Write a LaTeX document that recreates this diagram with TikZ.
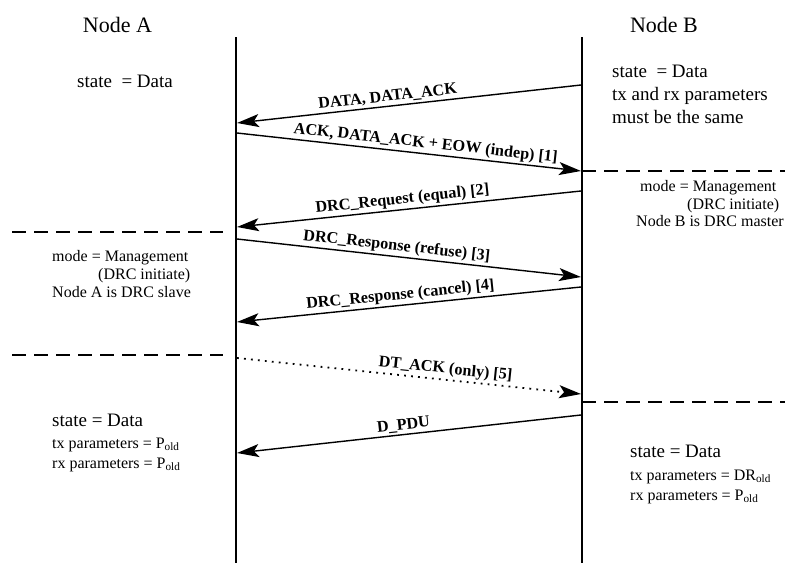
\documentclass[tikz,border=0pt]{standalone}
\usepackage{fontspec}
\setmainfont{Liberation Serif}
\usetikzlibrary{arrows.meta}
\begin{document}
\begin{tikzpicture}[x=1pt,y=-1pt,
  lifeline/.style={line width=1.8pt},
  msg/.style={line width=1.4pt,-{Stealth[length=22pt,width=13pt,inset=5pt]}},
  dotmsg/.style={msg, dash pattern=on 1.8pt off 5.2pt, line width=1.8pt},
  sepline/.style={line width=2pt, dash pattern=on 14pt off 8pt},
  lbl/.style={font=\bfseries\fontsize{16.2}{19}\selectfont, sloped, above=1pt, inner sep=1pt},
  title/.style={font=\fontsize{22}{24}\selectfont, inner sep=0pt, anchor=base},
  big/.style={font=\fontsize{19}{22}\selectfont, anchor=base west, inner sep=0pt},
  mid/.style={font=\fontsize{16}{19}\selectfont, anchor=base west, inner sep=0pt}]
\useasboundingbox (0,0) rectangle (785,563);
\clip (0,0) rectangle (785,563);

% titles
\node[title] (nA) at (117.5,32) {Node A};
\node[title] (nB) at (664,32) {Node B};

% lifelines
\coordinate (At) at (236,37); \coordinate (Ab) at (236,563);
\coordinate (Bt) at (582,37); \coordinate (Bb) at (582,563);
\draw[lifeline] (At) -- (Ab);
\draw[lifeline] (Bt) -- (Bb);

% message end points
\coordinate (B1) at (581,85);  \coordinate (A1) at (237,123);
\coordinate (A2) at (237,133); \coordinate (B2) at (581,171);
\coordinate (B3) at (581,191); \coordinate (A3) at (237,227);
\coordinate (A4) at (237,239); \coordinate (B4) at (581,277);
\coordinate (B5) at (581,287); \coordinate (A5) at (237,322);
\coordinate (A6) at (237,358); \coordinate (B6) at (581,394);
\coordinate (B7) at (581,415); \coordinate (A7) at (237,453);

\draw[msg] (B1) -- node[lbl,pos=0.559] (l1) {DATA, DATA\_ACK} (A1);
\draw[msg] (A2) -- node[lbl,pos=0.545] (l2) {ACK, DATA\_ACK + EOW (indep) [1]} (B2);
\draw[msg] (B3) -- node[lbl,pos=0.516] (l3) {DRC\_Request (equal) [2]} (A3);
\draw[msg] (A4) -- node[lbl,pos=0.461] (l4) {DRC\_Response (refuse) [3]} (B4);
\draw[msg] (B5) -- node[lbl,pos=0.522] (l5) {DRC\_Response (cancel) [4]} (A5);
\draw[dotmsg] (A6) -- node[lbl,pos=0.603] (l6) {DT\_ACK (only) [5]} (B6);
\draw[msg] (B7) -- node[lbl,pos=0.513] (l7) {D\_PDU} (A7);

% phase separators
\coordinate (s1a) at (582,171); \coordinate (s1b) at (785,171);
\coordinate (s2a) at (12,232);  \coordinate (s2b) at (223,232);
\coordinate (s3a) at (12,355);  \coordinate (s3b) at (223,355);
\coordinate (s4a) at (582,402); \coordinate (s4b) at (785,402);
\draw[sepline] (s1a) -- (s1b);
\draw[sepline] (s2a) -- (s2b);
\draw[sepline] (s3a) -- (s3b);
\draw[sepline] (s4a) -- (s4b);

% state texts
\node[big] (stA) at (77,87) {state\ \ = Data};
\node[big] (stB1) at (612,77) {state\ \ = Data};
\node[big] (stB2) at (612,100) {tx and rx parameters};
\node[big] (stB3) at (612,123) {must be the same};

\node[mid] (mB1) at (640,191) {mode = Management};
\node[mid] (mB2) at (687,209) {(DRC initiate)};
\node[mid] (mB3) at (636,226) {Node B is DRC master};

\node[mid] (mA1) at (52,261) {mode = Management};
\node[mid] (mA2) at (98,279) {(DRC initiate)};
\node[mid] (mA3) at (52,297) {Node A is DRC slave};

\node[big] (eA1) at (52,426) {state = Data};
\node[mid] (eA2) at (52,448) {tx parameters = P\textsubscript{old}};
\node[mid] (eA3) at (52,468) {rx parameters = P\textsubscript{old}};

\node[big] (eB1) at (630,457) {state = Data};
\node[mid] (eB2) at (630,480) {tx parameters = DR\textsubscript{old}};
\node[mid] (eB3) at (630,500) {rx parameters = P\textsubscript{old}};
\end{tikzpicture}
\end{document}
